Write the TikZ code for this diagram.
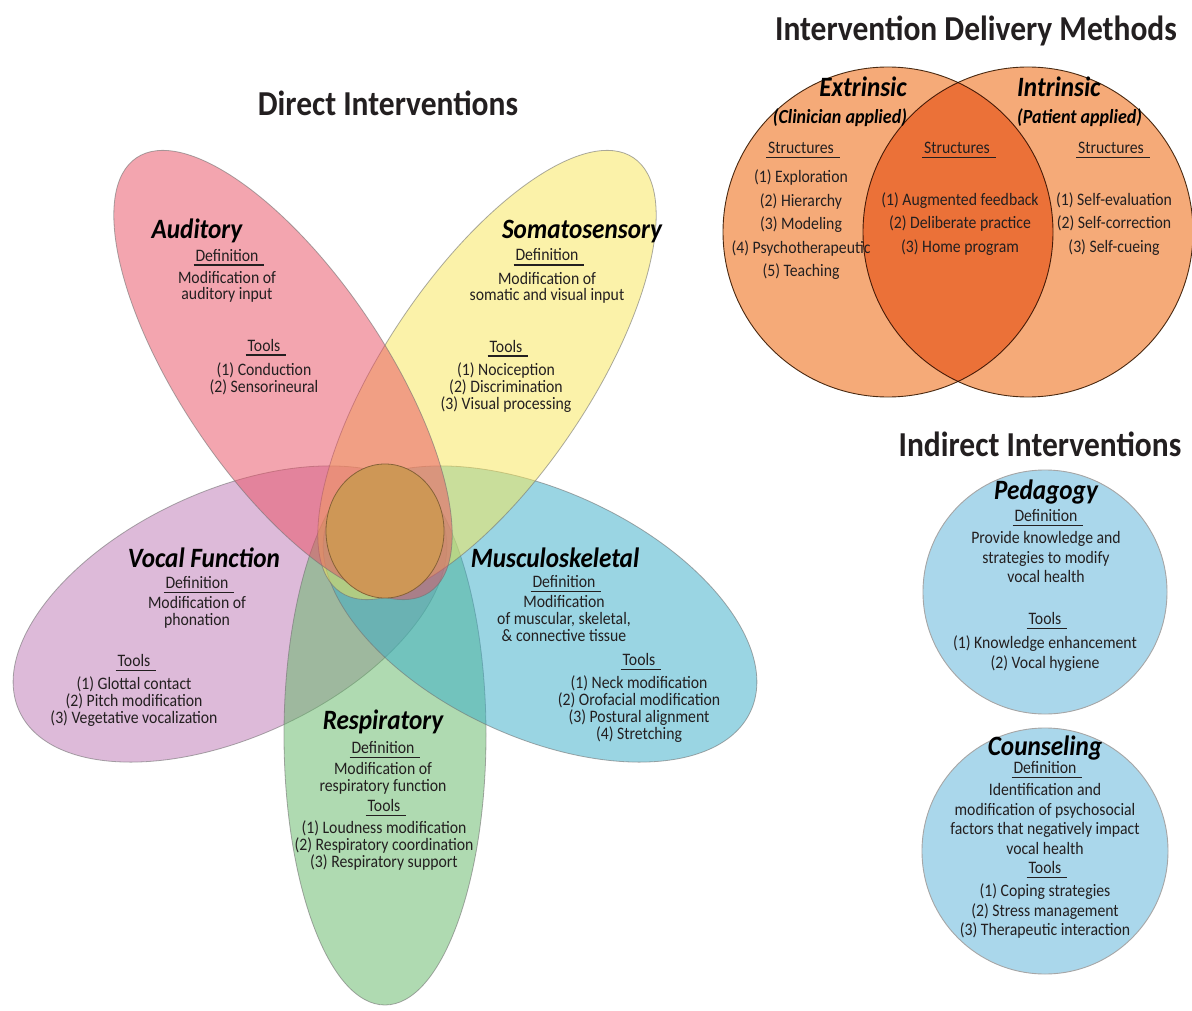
\documentclass[tikz,border=0pt]{standalone}
\usepackage{fontspec}
\setmainfont{Carlito}[FakeStretch=0.9]
\usepackage{tikz}
\usetikzlibrary{shapes.geometric, positioning}
\definecolor{audpink}{RGB}{233,77,97}
\definecolor{somyellow}{RGB}{249,231,85}
\definecolor{vocpurple}{RGB}{189,119,181}
\definecolor{musblue}{RGB}{55,173,201}
\definecolor{respgreen}{RGB}{97,183,101}
\definecolor{corebrown}{RGB}{206,151,86}
\definecolor{delivorange}{RGB}{245,170,120}
\definecolor{indirblue}{RGB}{170,215,235}
\definecolor{inkgray}{RGB}{35,31,32}
\newsavebox{\ulbox}
\newcommand{\ulhead}[1]{\sbox{\ulbox}{#1}\leavevmode\rlap{\kern-2pt\raisebox{-4.5pt}[0pt][0pt]{\rule{\dimexpr\wd\ulbox+8pt\relax}{1.1pt}}}\usebox{\ulbox}}
\lineskiplimit=-20pt

\begin{document}
\begin{tikzpicture}[x=1pt, y=-1pt,
  petal/.style={ellipse, draw=black!55, draw opacity=0.6, fill opacity=0.5, line width=0.8pt, inner sep=0pt},
  ring/.style={circle, inner sep=0pt, line width=0.9pt},
  bigtitle/.style={font=\fontsize{35}{40}\selectfont\bfseries, text=inkgray, anchor=base},
  head/.style={font=\fontsize{28}{30}\selectfont\bfseries\itshape, text=black, anchor=base, inner sep=0pt},
  body/.style={font=\fontsize{17.5}{17}\selectfont, text=inkgray, align=center, anchor=base, inner sep=0pt},
  vennbody/.style={body, font=\fontsize{17.5}{23.5}\selectfont},
  indbody/.style={body, font=\fontsize{17.5}{19.5}\selectfont}]

  % Page
  \fill[white] (0,0) rectangle (1192,1011);
  \useasboundingbox (0,0) rectangle (1192,1011);

  % Petals (bottom to top)
  \foreach \nm/\col/\cx/\cy/\rot/\len/\wid in {
      vocE/vocpurple/230/614/24.8/464/246,
      resE/respgreen/385/735/90/540/202,
      musE/musblue/540/614/-24.8/464/246,
      somE/somyellow/487/375/56/524/204,
      audE/audpink/283/375/-56/524/204} {
    \node[petal, fill=\col, minimum width=\len pt, minimum height=\wid pt, rotate=\rot] (\nm) at (\cx,\cy) {};
  }

  % Core
  \node[ellipse, fill=corebrown, draw=corebrown!65!black, line width=0.8pt, inner sep=0pt,
        minimum width=118pt, minimum height=134pt] (core) at (385,531) {};

  % Delivery circles
  \begin{scope}[blend mode=multiply]
    \node[ring, fill=delivorange, draw=black!60!brown, minimum size=330pt] (extC) at (888,232) {};
    \node[ring, fill=delivorange, draw=black!60!brown, minimum size=330pt] (intC) at (1028,232) {};
  \end{scope}

  % Indirect circles
  \node[ring, fill=indirblue, draw=black!35, minimum size=244pt] (pedC) at (1045,592) {};
  \node[ring, fill=indirblue, draw=black!35, minimum size=246pt] (couC) at (1045,851) {};

  % Titles
  \node[bigtitle] (directT) at (388,116) {Direct Interventions};
  \node[bigtitle] (delivT) at (976,41) {Intervention Delivery Methods};
  \node[bigtitle] (indirT) at (1040,456) {Indirect Interventions};

  % Auditory
  \node[head] (audH) at (197,239) {Auditory};
  \node[body] (audDef) at (227,300) {\ulhead{Definition}\\[5pt]Modification of\\auditory input};
  \node[body] (audTools) at (264,392) {\ulhead{Tools}\\[7pt](1) Conduction\\(2) Sensorineural};

  % Somatosensory
  \node[head] (somH) at (582,239) {Somatosensory};
  \node[body] (somDef) at (547,301) {\ulhead{Definition}\\[6pt]Modification of\\somatic and visual input};
  \node[body] (somTools) at (506,409) {\ulhead{Tools}\\[6pt](1) Nociception\\(2) Discrimination\\(3) Visual processing};

  % Vocal function
  \node[head] (vocH) at (204,567) {Vocal Function};
  \node[body] (vocDef) at (197,625.5) {\ulhead{Definition}\\[3pt]Modification of\\phonation};
  \node[body] (vocTools) at (134,723.5) {\ulhead{Tools}\\[6pt](1) Glottal contact\\(2) Pitch modification\\(3) Vegetative vocalization};

  % Musculoskeletal
  \node[head] (musH) at (555,567) {Musculoskeletal};
  \node[body] (musDef) at (564,641.5) {\ulhead{Definition}\\[3pt]Modification\\of muscular, skeletal,\\\& connective tissue};
  \node[body] (musTools) at (639,739.5) {\ulhead{Tools}\\[6pt](1) Neck modification\\(2) Orofacial modification\\(3) Postural alignment\\(4) Stretching};

  % Respiratory
  \node[head] (resH) at (383,729) {Respiratory};
  \node[body] (resDef) at (383,791.5) {\ulhead{Definition}\\[4pt]Modification of\\respiratory function};
  \node[body] (resTools) at (384,867.5) {\ulhead{Tools}\\[5pt](1) Loudness modification\\(2) Respiratory coordination\\(3) Respiratory support};

  % Extrinsic / Intrinsic
  \node[head, anchor=base east] (extH) at (907,97) {Extrinsic};
  \node[head, anchor=base east, font=\fontsize{20}{22}\selectfont\bfseries\itshape] (extSub) at (907,123.5) {(Clinician applied)};
  \node[head, anchor=base west] (intH) at (1017,97) {Intrinsic};
  \node[head, anchor=base west, font=\fontsize{20}{22}\selectfont\bfseries\itshape] (intSub) at (1017,123.5) {(Patient applied)};
  \node[vennbody] (extList) at (801,276.5) {\ulhead{Structures}\\[5.5pt](1) Exploration\\(2) Hierarchy\\(3) Modeling\\(4) Psychotherapeutic\\(5) Teaching};
  \node[vennbody] (bothHd) at (957,153.5) {\ulhead{Structures}};
  \node[vennbody] (bothList) at (960,252.5) {(1) Augmented feedback\\(2) Deliberate practice\\(3) Home program};
  \node[vennbody] (intHd) at (1111,153.5) {\ulhead{Structures}};
  \node[vennbody] (intList) at (1114,252.5) {(1) Self-evaluation\\(2) Self-correction\\(3) Self-cueing};

  % Pedagogy
  \node[head] (pedH) at (1046,499) {Pedagogy};
  \node[indbody] (pedDef) at (1046,582.5) {\ulhead{Definition}\\[2.5pt]Provide knowledge and\\strategies to modify\\vocal health};
  \node[indbody] (pedTools) at (1045,668) {\ulhead{Tools}\\[4.5pt](1) Knowledge enhancement\\(2) Vocal hygiene};

  % Counseling
  \node[head] (couH) at (1045,755) {Counseling};
  \node[indbody] (couDef) at (1045,935.5) {\ulhead{Definition}\\[2.5pt]Identification and\\modification of psychosocial\\factors that negatively impact\\vocal health\\\ulhead{Tools}\\[3.5pt](1) Coping strategies\\(2) Stress management\\(3) Therapeutic interaction};
\end{tikzpicture}
\end{document}
